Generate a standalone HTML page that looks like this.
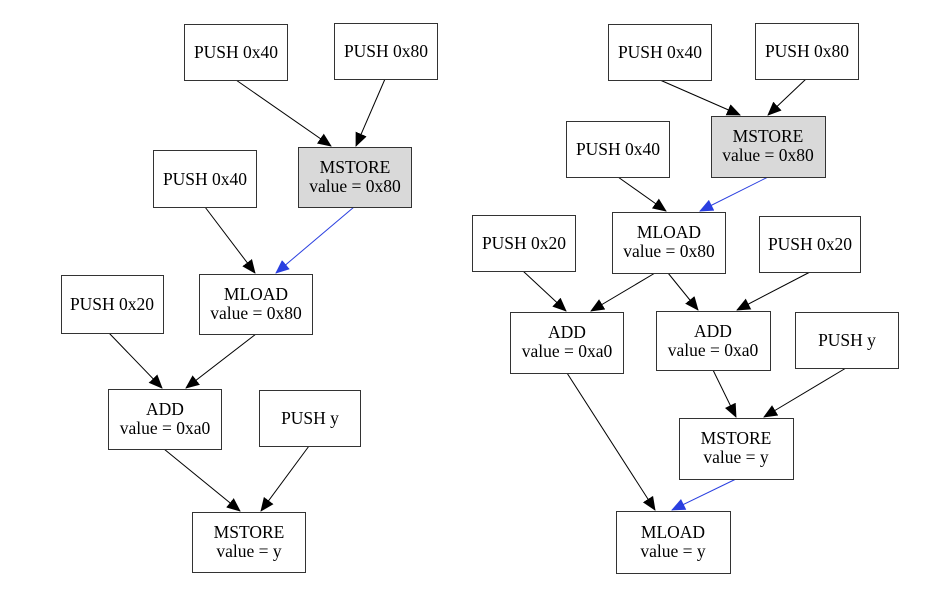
<!DOCTYPE html>
<html><head><meta charset="utf-8"><style>
html,body{margin:0;padding:0;background:#fff;}
</style></head><body>
<svg width="927" height="587" viewBox="0 0 927 587" xmlns="http://www.w3.org/2000/svg">
<defs>
<marker id="ak" markerWidth="14" markerHeight="12" refX="13" refY="6" orient="auto" markerUnits="userSpaceOnUse" viewBox="0 0 14 12"><path d="M0,0 L14,6 L0,12 z" fill="#000"/></marker>
<marker id="ab" markerWidth="14" markerHeight="12" refX="13" refY="6" orient="auto" markerUnits="userSpaceOnUse" viewBox="0 0 14 12"><path d="M0,0 L14,6 L0,12 z" fill="#2a3fe0"/></marker>
</defs>
<g fill="none" stroke="#000" stroke-width="1">
<line x1="236" y1="80" x2="331" y2="146" marker-end="url(#ak)"/>
<line x1="385" y1="79" x2="356" y2="146" marker-end="url(#ak)"/>
<line x1="205" y1="207" x2="255" y2="273" marker-end="url(#ak)"/>
<line x1="354" y1="207" x2="276" y2="273" stroke="#2a3fe0" marker-end="url(#ab)"/>
<line x1="109" y1="333" x2="162" y2="388" marker-end="url(#ak)"/>
<line x1="256" y1="334" x2="186" y2="388" marker-end="url(#ak)"/>
<line x1="164" y1="449" x2="240" y2="511" marker-end="url(#ak)"/>
<line x1="309" y1="446" x2="261" y2="511" marker-end="url(#ak)"/>
<line x1="660" y1="80" x2="740" y2="115" marker-end="url(#ak)"/>
<line x1="806" y1="79" x2="768" y2="115" marker-end="url(#ak)"/>
<line x1="618" y1="177" x2="666" y2="211" marker-end="url(#ak)"/>
<line x1="768" y1="177" x2="700" y2="211" stroke="#2a3fe0" marker-end="url(#ab)"/>
<line x1="523" y1="271" x2="566" y2="311" marker-end="url(#ak)"/>
<line x1="655" y1="273" x2="591" y2="311" marker-end="url(#ak)"/>
<line x1="668" y1="273" x2="698" y2="310" marker-end="url(#ak)"/>
<line x1="810" y1="272" x2="737" y2="310" marker-end="url(#ak)"/>
<line x1="567" y1="373" x2="655" y2="510" marker-end="url(#ak)"/>
<line x1="713" y1="370" x2="736" y2="417" marker-end="url(#ak)"/>
<line x1="846" y1="368" x2="764" y2="417" marker-end="url(#ak)"/>
<line x1="736" y1="479" x2="672" y2="510" stroke="#2a3fe0" marker-end="url(#ab)"/>
</g>
<g stroke="#333" stroke-width="1" fill="#fff">
<rect x="184.5" y="24.5" width="103" height="56"/>
<rect x="334.5" y="23.5" width="103" height="56"/>
<rect x="298.5" y="147.5" width="113" height="60" fill="#d9d9d9"/>
<rect x="153.5" y="150.5" width="103" height="57"/>
<rect x="199.5" y="274.5" width="113" height="60"/>
<rect x="61.5" y="275.5" width="102" height="58"/>
<rect x="108.5" y="389.5" width="113" height="60"/>
<rect x="259.5" y="390.5" width="101" height="56"/>
<rect x="192.5" y="512.5" width="113" height="60"/>
<rect x="608.5" y="24.5" width="103" height="56"/>
<rect x="755.5" y="23.5" width="103" height="56"/>
<rect x="711.5" y="116.5" width="114" height="61" fill="#d9d9d9"/>
<rect x="566.5" y="121.5" width="103" height="56"/>
<rect x="612.5" y="212.5" width="113" height="61"/>
<rect x="472.5" y="215.5" width="103" height="56"/>
<rect x="759.5" y="216.5" width="101" height="56"/>
<rect x="510.5" y="312.5" width="113" height="61"/>
<rect x="656.5" y="311.5" width="114" height="59"/>
<rect x="795.5" y="312.5" width="103" height="56"/>
<rect x="679.5" y="418.5" width="114" height="61"/>
<rect x="616.5" y="511.5" width="114" height="62"/>
</g>
<g text-anchor="middle" font-family="Liberation Serif, Times New Roman, serif" font-size="17.5" fill="#000" style="font-family:'Liberation Serif','Times New Roman',serif">
<text x="236" y="58">PUSH 0x40</text>
<text x="386" y="57">PUSH 0x80</text>
<text x="355" y="173">MSTORE</text><text x="355" y="192">value = 0x80</text>
<text x="205" y="185">PUSH 0x40</text>
<text x="256" y="300">MLOAD</text><text x="256" y="319">value = 0x80</text>
<text x="112" y="310">PUSH 0x20</text>
<text x="165" y="415">ADD</text><text x="165" y="434">value = 0xa0</text>
<text x="310" y="424">PUSH y</text>
<text x="249" y="538">MSTORE</text><text x="249" y="557">value = y</text>
<text x="660" y="58">PUSH 0x40</text>
<text x="807" y="57">PUSH 0x80</text>
<text x="768" y="142">MSTORE</text><text x="768" y="161">value = 0x80</text>
<text x="618" y="155">PUSH 0x40</text>
<text x="669" y="238">MLOAD</text><text x="669" y="257">value = 0x80</text>
<text x="524" y="249">PUSH 0x20</text>
<text x="810" y="250">PUSH 0x20</text>
<text x="567" y="338">ADD</text><text x="567" y="357">value = 0xa0</text>
<text x="713" y="337">ADD</text><text x="713" y="356">value = 0xa0</text>
<text x="847" y="346">PUSH y</text>
<text x="736" y="444">MSTORE</text><text x="736" y="463">value = y</text>
<text x="673" y="538">MLOAD</text><text x="673" y="557">value = y</text>
</g>
</svg>
</body></html>
